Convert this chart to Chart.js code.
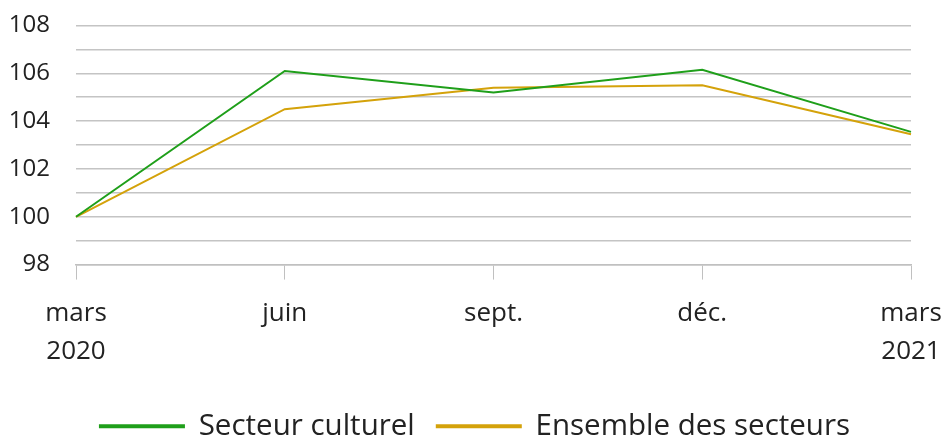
<!DOCTYPE html>
<html>
<head>
<meta charset="utf-8">
<script src="https://cdn.jsdelivr.net/npm/chart.js@4"></script>
<style>
  html, body { margin: 0; padding: 0; background: #fff; }
  #wrap { width: 943px; height: 440px; }
</style>
</head>
<body>
<div id="wrap"><canvas id="lineChart"></canvas></div>
<script>
// data
const periods = [["mars", "2020"], "juin", "sept.", "déc.", ["mars", "2021"]];
const culture = [100, 106.1, 105.2, 106.15, 103.55];
const allSectors = [100, 104.5, 105.4, 105.5, 103.45];
const yTicks = [98, 100, 102, 104, 106, 108];

Chart.defaults.font.family = "'Open Sans', 'Noto Sans', sans-serif";
Chart.defaults.color = "#222";

new Chart(document.getElementById("lineChart"), {
    type: "line",
    data: {
        labels: periods,
        datasets: [{
            label: "Secteur culturel",
            data: culture,
            borderColor: "#1f9f1a",
            backgroundColor: "#1f9f1a",
            borderWidth: 2,
            pointRadius: 0,
            tension: 0
        }, {
            label: "Ensemble des secteurs",
            data: allSectors,
            borderColor: "#d4a20a",
            backgroundColor: "#d4a20a",
            borderWidth: 2,
            pointRadius: 0,
            tension: 0
        }]
    },
    options: {
        responsive: true,
        maintainAspectRatio: false,
        animation: false,
        layout: { padding: { top: 0, left: 0, right: -7, bottom: -11 } },
        plugins: {
            tooltip: { enabled: false },
            legend: {
                position: "bottom",
                labels: {
                    boxWidth: 84,
                    boxHeight: 2,
                    padding: 22,
                    font: { size: 29.5 },
                    color: "#222"
                }
            }
        },
        scales: {
            x: {
                offset: false,
                afterFit: s => { s.height += 4; s.paddingRight = 32; },
                grid: {
                    drawOnChartArea: false,
                    drawTicks: true,
                    tickLength: 15,
                    color: "#c0c0c0"
                },
                border: { color: "#c0c0c0", width: 1.5 },
                ticks: {
                    maxRotation: 0,
                    autoSkip: false,
                    padding: 15,
                    font: { size: 26, lineHeight: 1.46 },
                    color: "#222"
                }
            },
            y: {
                min: 98,
                max: 108,
                afterFit: s => { s.paddingTop = 25.5; s.width = 76; },
                grid: { color: "#c4c4c4", lineWidth: 1.5, drawTicks: false },
                border: { display: false },
                ticks: {
                    stepSize: 1,
                    autoSkip: false,
                    padding: 26,
                    font: { size: 24 },
                    color: "#222",
                    callback: v => yTicks.includes(v) ? v : ""
                }
            }
        }
    }
});
</script>
</body>
</html>
